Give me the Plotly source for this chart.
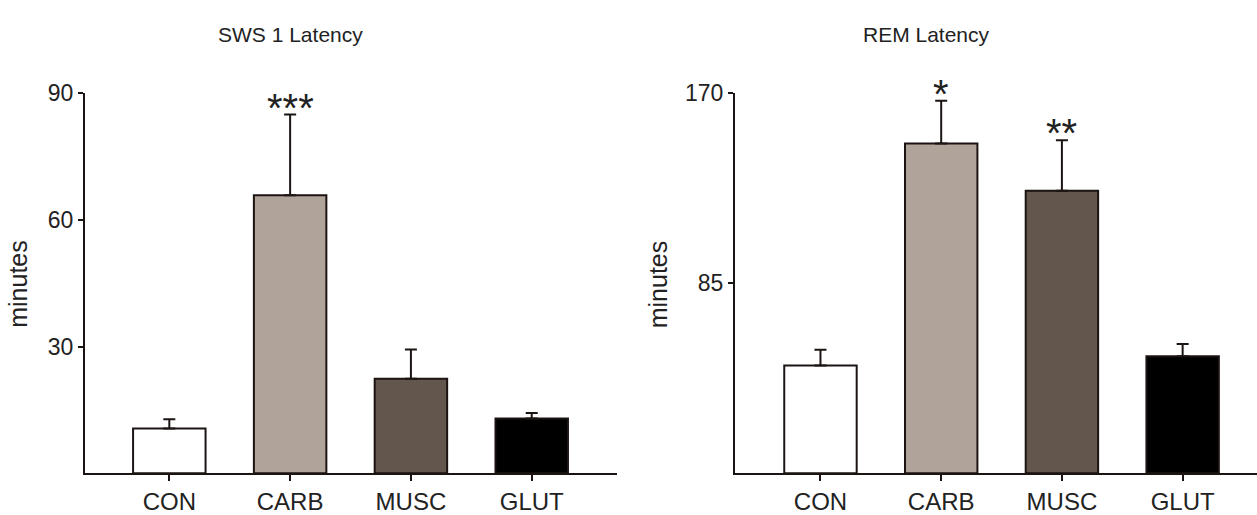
import plotly.graph_objects as go

categories = ["CON", "CARB", "MUSC", "GLUT"]
sws_values = [10.6, 65.9, 22.4, 13.0]
sws_errors = [2.2, 19.1, 6.9, 1.3]
rem_values = [48.2, 147.6, 126.4, 52.4]
rem_errors = [7.1, 19.1, 22.6, 5.5]
sws_stars = ["", "***", "", ""]
rem_stars = ["", "*", "**", ""]
bar_colors = ["#ffffff", "#b0a39a", "#63564c", "#000000"]
sws_ticks = [30, 60, 90]
rem_ticks = [85, 170]

W, H = 1257, 515
FONT = "Liberation Sans, Arial, sans-serif"
TXT = "#222222"
LINE = "#1c1412"

fig = go.Figure()

def add_panel(values, errors, xa, ya):
    fig.add_trace(go.Bar(
        x=categories, y=values, width=0.6,
        marker=dict(color=bar_colors, line=dict(color=LINE, width=2)),
        error_y=dict(type="data", symmetric=False, array=errors,
                     arrayminus=[0] * len(errors), color=LINE,
                     thickness=2, width=6),
        xaxis=xa, yaxis=ya, showlegend=False,
    ))

add_panel(sws_values, sws_errors, "x", "y")
add_panel(rem_values, rem_errors, "x2", "y2")

ydom = [(515 - 475) / H, (515 - 83) / H]
axis_common = dict(showgrid=False, zeroline=False, showline=True,
                   linecolor=LINE, linewidth=2, ticks="outside",
                   tickcolor=LINE, tickwidth=2)
xfont = dict(family=FONT, size=24, color=TXT)
yfont = dict(family=FONT, size=23, color=TXT)

fig.update_layout(
    width=W, height=H,
    margin=dict(l=0, r=0, t=0, b=0),
    paper_bgcolor="white", plot_bgcolor="white",
    xaxis=dict(domain=[85 / W, 617 / W], range=[-0.698, 3.706],
               ticklen=6, tickfont=xfont, **axis_common),
    yaxis=dict(domain=ydom, range=[0, 90], tickvals=sws_ticks,
               ticklen=5, anchor="x", tickfont=yfont, **axis_common),
    xaxis2=dict(domain=[735 / W, 1.0], range=[-0.708, 3.616],
                ticklen=6, anchor="y2", tickfont=xfont, **axis_common),
    yaxis2=dict(domain=ydom, range=[0, 170], tickvals=rem_ticks,
                ticklen=5, anchor="x2", tickfont=yfont, **axis_common),
)

ann = []
for xr, yr, vals, errs, stars in [("x", "y", sws_values, sws_errors, sws_stars),
                                  ("x2", "y2", rem_values, rem_errors, rem_stars)]:
    for c, v, e, s in zip(categories, vals, errs, stars):
        if s:
            ann.append(dict(x=c, y=v + e, xref=xr, yref=yr, text=s,
                            showarrow=False, xanchor="center",
                            yanchor="middle", yshift=7,
                            font=dict(family=FONT, size=40, color=TXT)))

ann.append(dict(x=290 / W, y=1 - 22 / H, xref="paper", yref="paper",
                text="SWS 1 Latency", showarrow=False,
                xanchor="center", yanchor="middle",
                font=dict(family=FONT, size=21, color=TXT)))
ann.append(dict(x=926 / W, y=1 - 22 / H, xref="paper", yref="paper",
                text="REM Latency", showarrow=False,
                xanchor="center", yanchor="middle",
                font=dict(family=FONT, size=21, color=TXT)))
for xpix in [18.5, 658]:
    ann.append(dict(x=xpix / W, y=1 - 280 / H, xref="paper", yref="paper",
                    text="minutes", textangle=-90, showarrow=False,
                    xanchor="center", yanchor="middle",
                    font=dict(family=FONT, size=25, color=TXT)))
fig.update_layout(annotations=ann)

fig.write_html("out.html")
